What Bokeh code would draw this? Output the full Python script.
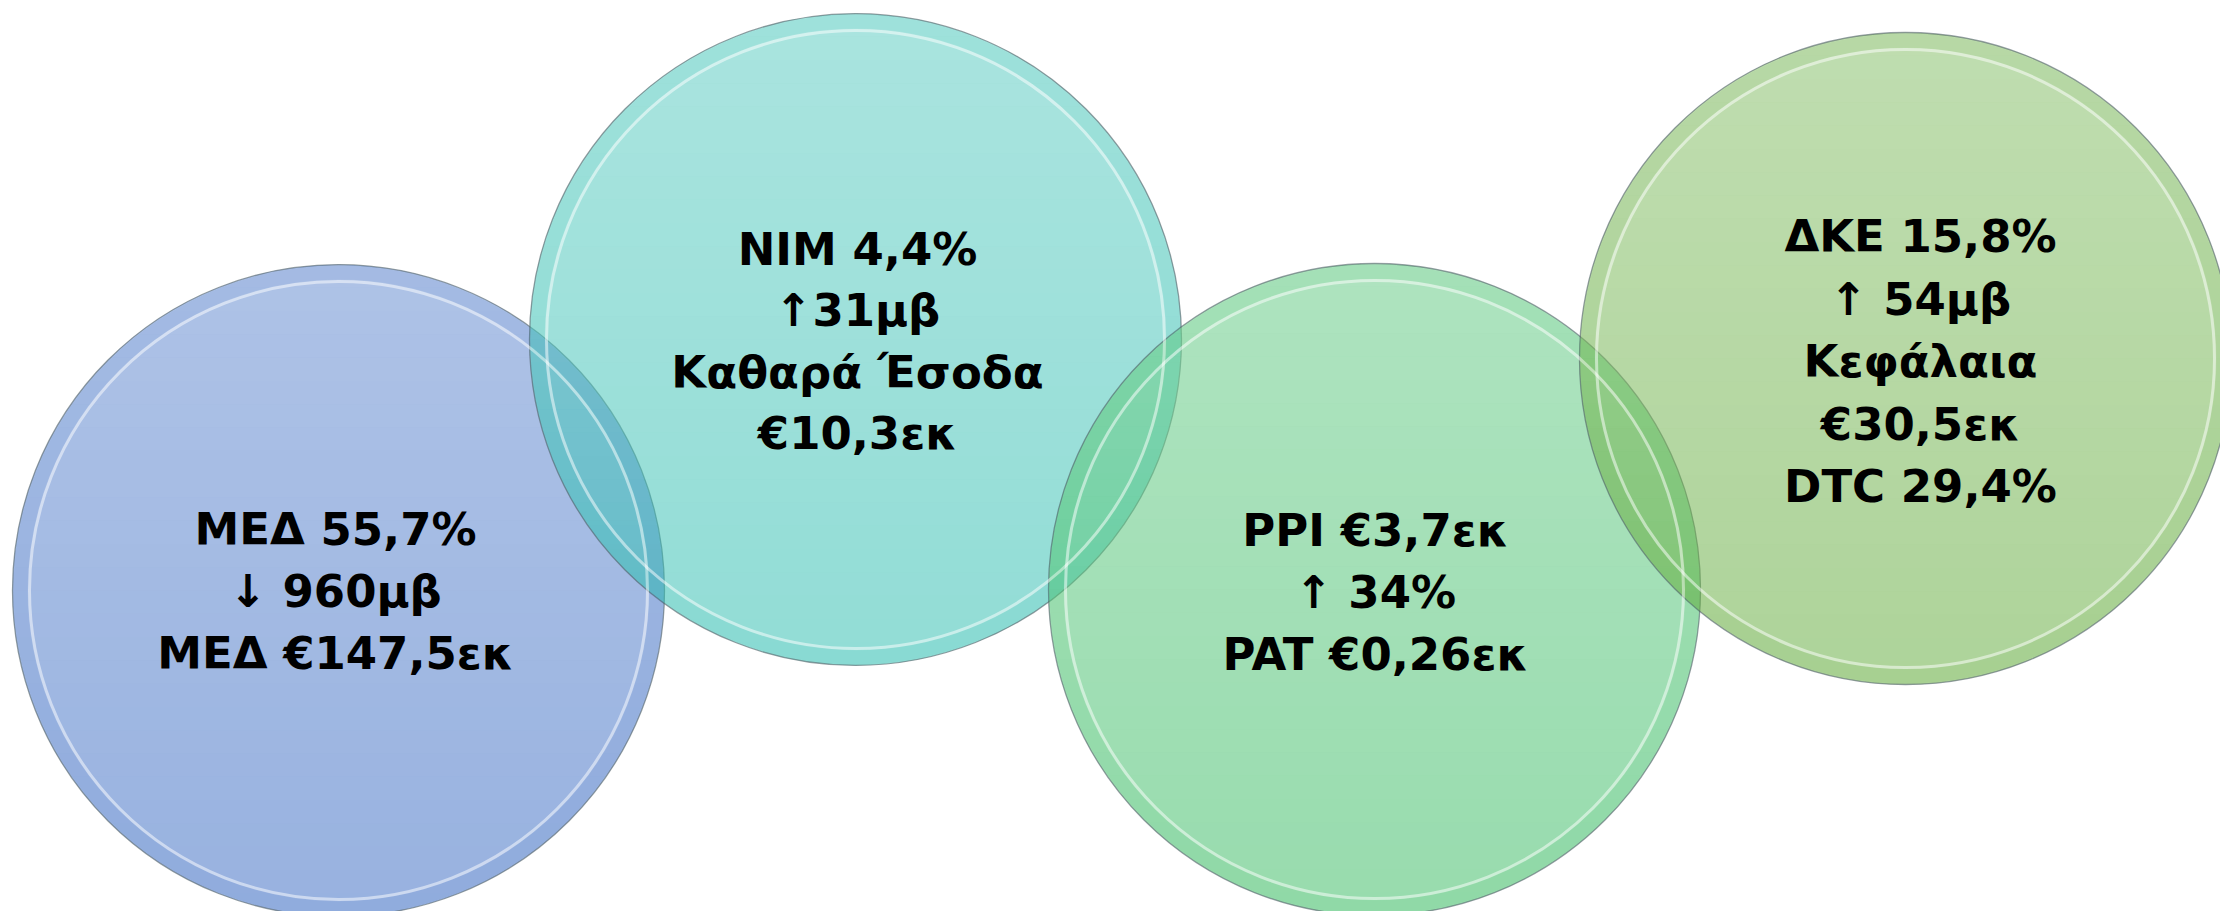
import numpy as np
from bokeh.plotting import figure
from bokeh.models import Range1d
from bokeh.core.properties import value
from bokeh.embed import file_html
from bokeh.resources import INLINE

# ---- content ----
labels_1 = ["ΜΕΔ 55,7%", "↓ 960μβ", "ΜΕΔ €147,5εκ"]
labels_2 = ["NIM 4,4%", "↑31μβ", "Καθαρά Έσοδα", "€10,3εκ"]
labels_3 = ["PPI €3,7εκ", "↑ 34%", "PAT €0,26εκ"]
labels_4 = ["ΔΚΕ 15,8%", "↑ 54μβ", "Κεφάλαια", "€30,5εκ", "DTC 29,4%"]
all_labels = [labels_1, labels_2, labels_3, labels_4]
fill_colors = ["#3165C1", "#25BBAD", "#31B95D", "#5DA935"]

# ---- layout (screen pixel coordinates) ----
W, H = 2220, 911
cx = [338, 855, 1374, 1905]
cy = [590, 339, 589, 358]
R = 326
text_cx = [335, 857, 1375, 1920]
text_cy = [591, 341, 592, 361]
line_gap = [62.0, 61.5, 62.0, 62.5]

p = figure(width=W, height=H, output_backend="svg", toolbar_location=None,
           x_range=Range1d(0, W), y_range=Range1d(H, 0),
           min_border=0)
p.axis.visible = False
p.grid.visible = False
p.outline_line_color = None
p.background_fill_color = "white"
p.border_fill_color = "white"

NB = 28
for i in range(4):
    p.circle(x=[cx[i]], y=[cy[i]], radius=R, fill_color=fill_colors[i], fill_alpha=0.5,
             line_color=None)
    # soft top-to-bottom sheen (white overlay bands clipped to the circle)
    bxs, bys, balpha = [], [], []
    edges = np.linspace(cy[i] - R, cy[i] + R, NB + 1)
    for k in range(NB):
        yy = np.linspace(edges[k], edges[k + 1], 6)
        half = np.sqrt(np.clip(R ** 2 - (yy - cy[i]) ** 2, 0, None))
        bxs.append(list(cx[i] - half) + list(cx[i] + half[::-1]))
        bys.append(list(yy) + list(yy[::-1]))
        balpha.append(0.22 * (1 - (k + 0.5) / NB))
    p.patches(xs=bxs, ys=bys, fill_color="white", fill_alpha=balpha, line_color=None)
    p.circle(x=[cx[i]], y=[cy[i]], radius=R, fill_color=None,
             line_color="#4f5f66", line_alpha=0.6, line_width=1.3)

# bevel highlights
for i in range(4):
    p.circle(x=[cx[i]], y=[cy[i]], radius=R - 8, fill_color=None,
             line_color=fill_colors[i], line_alpha=0.08, line_width=14)
    p.circle(x=[cx[i]], y=[cy[i]], radius=R - 17, fill_color=None,
             line_color="white", line_alpha=0.5, line_width=3)

xs, ys, ts = [], [], []
for i, lines in enumerate(all_labels):
    n = len(lines)
    for j, t in enumerate(lines):
        xs.append(text_cx[i])
        ys.append(text_cy[i] + (j - (n - 1) / 2) * line_gap[i])
        ts.append(t)

p.text(x=xs, y=ys, text=ts, text_align="center", text_baseline="middle",
       text_font=value("DejaVu Sans"), text_font_style="bold", text_font_size="45px",
       text_color="black")

open("out.html", "w").write(file_html(p, INLINE))
